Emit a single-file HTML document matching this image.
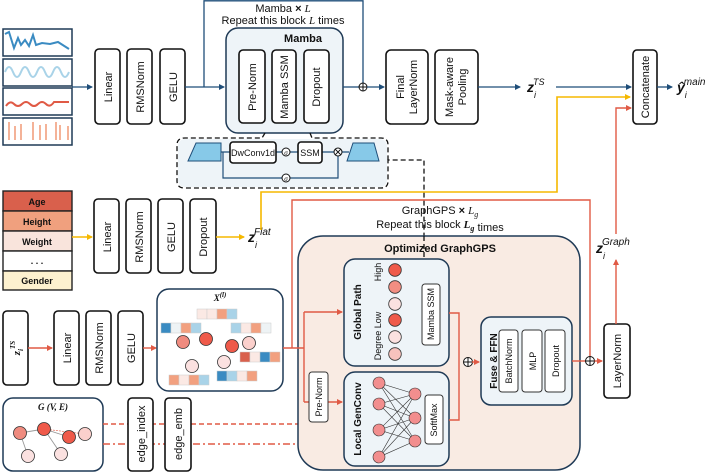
<!DOCTYPE html>
<html><head><meta charset="utf-8"><style>
html,body{margin:0;padding:0;background:#fff}
svg{display:block}
text{font-family:"Liberation Sans",sans-serif;fill:#111}
.b{fill:#fff;stroke:#111;stroke-width:1.6}
.bl{font-size:11px}
.s{font-family:"Liberation Serif",serif;font-style:italic}
</style></head><body>
<svg width="718" height="473" viewBox="0 0 718 473" xmlns="http://www.w3.org/2000/svg">
<defs>
<marker id="an" markerWidth="6" markerHeight="6" refX="5" refY="3" orient="auto" markerUnits="userSpaceOnUse"><path d="M0,0 L6,3 L0,6z" fill="#1f4e79"/></marker>
<marker id="ar" markerWidth="6" markerHeight="6" refX="5" refY="3" orient="auto" markerUnits="userSpaceOnUse"><path d="M0,0 L6,3 L0,6z" fill="#e05a45"/></marker>
<marker id="ay" markerWidth="6" markerHeight="6" refX="5" refY="3" orient="auto" markerUnits="userSpaceOnUse"><path d="M0,0 L6,3 L0,6z" fill="#f5b800"/></marker>
</defs>

<!-- TS panels -->
<g stroke="#1f3a56" stroke-width="1.5" fill="#fff">
<rect x="3" y="29" width="69" height="27"/><rect x="3" y="59" width="69" height="27"/>
<rect x="3" y="88" width="69" height="27"/><rect x="3" y="118" width="69" height="27"/>
</g>
<path d="M5,34 L9,32 L14,48 L18,38 L21,45 L25,40 L29,46 L33,35 L36,45 L42,43 L50,44 L58,42 L69,49" fill="none" stroke="#3a8bc2" stroke-width="2"/>
<path d="M5,72 Q9,62 13,72 T21,72 T29,72 T37,72 T45,72 T53,72 T61,72 T69,72" fill="none" stroke="#a9d3e8" stroke-width="2"/>
<path d="M6,106 Q10,100 14,104 T22,104 T30,104 T38,104 T46,104 T54,102 L69,102" fill="none" stroke="#e05a45" stroke-width="2"/>
<g stroke="#f2a07f" stroke-width="1.6"><path d="M9,122v18M15,126v14M21,124v16M33,122v18M40,125v15M46,124v16M56,122v18M60,125v15M68,126v14"/></g>

<!-- top chain -->
<path d="M72,87 H92" stroke="#1f4e79" stroke-width="1.3" marker-end="url(#an)"/>
<rect class="b" x="95" y="49" width="25" height="75" rx="4"/>
<rect class="b" x="127" y="49" width="25" height="75" rx="4"/>
<rect class="b" x="160" y="49" width="25" height="75" rx="4"/>
<text class="bl" transform="translate(112,87) rotate(-90)" text-anchor="middle">Linear</text>
<text class="bl" transform="translate(144,87) rotate(-90)" text-anchor="middle">RMSNorm</text>
<text class="bl" transform="translate(177,87) rotate(-90)" text-anchor="middle">GELU</text>
<path d="M185,87 H224" stroke="#1f4e79" stroke-width="1.3" fill="none" marker-end="url(#an)"/>
<path d="M204,87 V0.8 H363 V83" stroke="#1f4e79" stroke-width="1.3" fill="none"/>
<text x="283" y="12" text-anchor="middle" font-size="11">Mamba <tspan font-weight="bold">×</tspan> <tspan class="s">L</tspan></text>
<text x="283" y="24" text-anchor="middle" font-size="11">Repeat this block <tspan class="s">L</tspan> times</text>
<rect x="226" y="28" width="117" height="105" rx="12" fill="#eef4f8" stroke="#1f3a56" stroke-width="1.5"/>
<text x="303" y="42" text-anchor="middle" font-size="11" font-weight="bold">Mamba</text>
<rect class="b" x="239" y="50" width="26" height="73" rx="4"/>
<rect class="b" x="272" y="50" width="24" height="73" rx="4"/>
<rect class="b" x="304" y="50" width="25" height="73" rx="4"/>
<text class="bl" transform="translate(256,87) rotate(-90)" text-anchor="middle">Pre-Norm</text>
<text class="bl" transform="translate(288,87) rotate(-90)" text-anchor="middle">Mamba SSM</text>
<text class="bl" transform="translate(320,87) rotate(-90)" text-anchor="middle">Dropout</text>
<path d="M343,87 H359" stroke="#1f4e79" stroke-width="1.3"/>
<circle cx="363" cy="87" r="4" fill="#fff" stroke="#111" stroke-width="1"/><path d="M359,87h8M363,83v8" stroke="#111" stroke-width="1"/>
<path d="M367,87 H384" stroke="#1f4e79" stroke-width="1.3" marker-end="url(#an)"/>
<rect class="b" x="386" y="50" width="42" height="74" rx="5"/>
<rect class="b" x="435" y="50" width="43" height="74" rx="5"/>
<text class="bl" transform="translate(404,87) rotate(-90)" text-anchor="middle">Final</text>
<text class="bl" transform="translate(417,87) rotate(-90)" text-anchor="middle">LayerNorm</text>
<text class="bl" transform="translate(453,87) rotate(-90)" text-anchor="middle">Mask-aware</text>
<text class="bl" transform="translate(466,87) rotate(-90)" text-anchor="middle">Pooling</text>
<path d="M478,87 H520" stroke="#1f4e79" stroke-width="1.3" marker-end="url(#an)"/>
<text x="527" y="92" font-size="14" font-weight="bold" font-family="Liberation Serif,serif" font-style="italic">z<tspan font-size="9" dy="6" font-weight="normal">i</tspan><tspan font-size="9" dy="-13" dx="-3" font-weight="normal">TS</tspan></text>
<path d="M556,87 H631" stroke="#1f4e79" stroke-width="1.3" marker-end="url(#an)"/>
<rect class="b" x="633" y="50" width="24" height="74" rx="4"/>
<text class="bl" transform="translate(649,87) rotate(-90)" text-anchor="middle">Concatenate</text>
<path d="M657,87 H672" stroke="#1f4e79" stroke-width="1.3" marker-end="url(#an)"/>
<text x="677" y="92" font-size="14" font-weight="bold" font-family="Liberation Serif,serif" font-style="italic">ŷ<tspan font-size="9" dy="6" font-weight="normal">i</tspan><tspan font-size="10" dy="-13" dx="-3" font-weight="normal">main</tspan></text>

<!-- mamba expanded -->
<path d="M265,133 L262,138 H185 Q177,138 177,145 V181 Q177,188 185,188 H381 Q388,188 388,181 V160 H424 V278" fill="none" stroke="#111" stroke-width="1.3" stroke-dasharray="5,3"/>
<path d="M310,133 L312,138 H381 Q388,138 388,145 V160" fill="none" stroke="#111" stroke-width="1.3" stroke-dasharray="5,3"/>
<rect x="178" y="139" width="209" height="48" rx="7" fill="#eef4f8"/>
<path d="M196,143 H221 V161 H188 Z" fill="#87c9e8" stroke="#1f4e79" stroke-width="1"/>
<path d="M353,143 H374 L379,161 H347 Z" fill="#87c9e8" stroke="#1f4e79" stroke-width="1"/>
<path d="M221,152 H230 M276,152 H282 M290,152 H298 M322,152 H334 M342,152 H349 M223,152 V178 H282 M290,178 H338 V156" stroke="#1f4e79" stroke-width="1.2" fill="none"/>
<rect class="b" x="230" y="142" width="46" height="21" rx="3" stroke-width="1.2"/>
<text x="253" y="156" text-anchor="middle" font-size="9">DwConv1d</text>
<circle cx="286" cy="152" r="4" fill="#fff" stroke="#111"/><text x="286" y="155" text-anchor="middle" font-size="7" class="s">σ</text>
<rect class="b" x="298" y="142" width="24" height="21" rx="3" stroke-width="1.2"/>
<text x="310" y="156" text-anchor="middle" font-size="9">SSM</text>
<circle cx="338" cy="152" r="4" fill="#fff" stroke="#111"/><path d="M335,149l6,6M341,149l-6,6" stroke="#111" stroke-width="0.9"/>
<circle cx="286" cy="178" r="4" fill="#fff" stroke="#111"/><text x="286" y="181" text-anchor="middle" font-size="7" class="s">σ</text>

<!-- flat -->
<g stroke="#222" stroke-width="1.4">
<rect x="3" y="191" width="69" height="20" fill="#d9604c"/>
<rect x="3" y="211" width="69" height="20" fill="#f0a07e"/>
<rect x="3" y="231" width="69" height="20" fill="#f9e4dc"/>
<rect x="3" y="251" width="69" height="20" fill="#fff"/>
<rect x="3" y="271" width="69" height="19" fill="#fdf1cf"/>
</g>
<g font-size="9" font-weight="bold" text-anchor="middle">
<text x="37" y="205">Age</text><text x="37" y="225">Height</text><text x="37" y="245">Weight</text><text x="37" y="264">. . .</text><text x="37" y="284">Gender</text></g>
<path d="M72,237 H92" stroke="#f5b800" stroke-width="1.5" marker-end="url(#ay)"/>
<rect class="b" x="94" y="199" width="25" height="74" rx="4"/>
<rect class="b" x="126" y="199" width="25" height="74" rx="4"/>
<rect class="b" x="158" y="199" width="25" height="74" rx="4"/>
<rect class="b" x="190" y="199" width="26" height="74" rx="4"/>
<text class="bl" transform="translate(111,237) rotate(-90)" text-anchor="middle">Linear</text>
<text class="bl" transform="translate(143,237) rotate(-90)" text-anchor="middle">RMSNorm</text>
<text class="bl" transform="translate(175,237) rotate(-90)" text-anchor="middle">GELU</text>
<text class="bl" transform="translate(207,237) rotate(-90)" text-anchor="middle">Dropout</text>
<path d="M216,237 H244" stroke="#f5b800" stroke-width="1.5" marker-end="url(#ay)"/>
<text x="248" y="242" font-size="14" font-weight="bold" font-family="Liberation Serif,serif" font-style="italic">z<tspan font-size="9" dy="6" font-weight="normal">i</tspan><tspan font-size="10" dy="-13" dx="-3" font-weight="normal">Flat</tspan></text>
<path d="M261,230 V192 H557 V97 H630" stroke="#f5b800" stroke-width="1.6" fill="none" marker-end="url(#ay)"/>

<!-- graph chain -->
<rect class="b" x="3" y="311" width="25" height="74" rx="4"/>
<text transform="translate(20,348) rotate(-90)" text-anchor="middle" font-size="11" class="s" font-weight="bold">z<tspan font-size="7" dy="3">i</tspan><tspan font-size="7" dy="-8">TS</tspan></text>
<path d="M28,348 H52" stroke="#e05a45" stroke-width="1.4" marker-end="url(#ar)"/>
<rect class="b" x="54" y="311" width="25" height="74" rx="4"/>
<rect class="b" x="86" y="311" width="25" height="74" rx="4"/>
<rect class="b" x="118" y="311" width="25" height="74" rx="4"/>
<text class="bl" transform="translate(71,348) rotate(-90)" text-anchor="middle">Linear</text>
<text class="bl" transform="translate(103,348) rotate(-90)" text-anchor="middle">RMSNorm</text>
<text class="bl" transform="translate(135,348) rotate(-90)" text-anchor="middle">GELU</text>
<path d="M143,348 H156" stroke="#e05a45" stroke-width="1.4" marker-end="url(#ar)"/>
<rect x="157" y="289" width="126" height="102" rx="12" fill="#fff" stroke="#1f3a56" stroke-width="1.5"/>
<text x="220" y="301" text-anchor="middle" font-size="9" font-weight="bold" class="s">X<tspan font-size="7" dy="-4">(l)</tspan></text>
<g stroke="#ccc" stroke-width="0.5">
<rect x="197" y="309" width="10" height="10" fill="#fbe9e4"/><rect x="207" y="309" width="10" height="10" fill="#fbe9e4"/><rect x="217" y="309" width="10" height="10" fill="#f2a07f"/><rect x="227" y="309" width="10" height="10" fill="#a9d3e8"/>
<rect x="161" y="323" width="10" height="10" fill="#3a8bc2"/><rect x="171" y="323" width="10" height="10" fill="#eef3f5"/><rect x="181" y="323" width="10" height="10" fill="#f2a07f"/><rect x="191" y="323" width="10" height="10" fill="#a9d3e8"/>
<rect x="231" y="323" width="10" height="10" fill="#a9d3e8"/><rect x="241" y="323" width="10" height="10" fill="#fbe9e4"/><rect x="251" y="323" width="10" height="10" fill="#f2a07f"/><rect x="261" y="323" width="10" height="10" fill="#eef3f5"/>
<rect x="240" y="352" width="10" height="10" fill="#d9604c"/><rect x="250" y="352" width="10" height="10" fill="#fbe9e4"/><rect x="260" y="352" width="10" height="10" fill="#3a8bc2"/><rect x="270" y="352" width="10" height="10" fill="#f2a07f"/>
<rect x="169" y="375" width="10" height="10" fill="#f2a07f"/><rect x="179" y="375" width="10" height="10" fill="#fbe9e4"/><rect x="189" y="375" width="10" height="10" fill="#f2a07f"/><rect x="199" y="375" width="10" height="10" fill="#a9d3e8"/>
<rect x="217" y="371" width="10" height="10" fill="#3a8bc2"/><rect x="227" y="371" width="10" height="10" fill="#a9d3e8"/><rect x="237" y="371" width="10" height="10" fill="#fbe9e4"/><rect x="247" y="371" width="10" height="10" fill="#f2a07f"/>
</g>
<g stroke="#333" stroke-width="0.8">
<circle cx="183" cy="342" r="6.5" fill="#ef8b7f"/><circle cx="206" cy="339" r="6.5" fill="#ef5a4a"/><circle cx="232" cy="346" r="6.5" fill="#ef5a4a"/><circle cx="249" cy="343" r="6.5" fill="#fbd0cc"/><circle cx="192" cy="366" r="6.5" fill="#fbe1e0"/><circle cx="224" cy="362" r="6.5" fill="#fbe1e0"/>
</g>

<!-- G(V,E) -->
<rect x="3" y="398" width="100" height="73" rx="10" fill="#fff" stroke="#1f3a56" stroke-width="1.5"/>
<text x="53" y="410" text-anchor="middle" font-size="9" font-weight="bold" class="s">G (V, E)</text>
<path d="M20,433 L44,429 L69,437 M44,429 L61,454 M20,433 L28,456" stroke="#999" stroke-width="0.9" fill="none"/>
<path d="M44,429 L85,434" stroke="#e05a45" stroke-width="0.7" stroke-dasharray="2,1"/>
<g stroke="#333" stroke-width="0.8">
<circle cx="20" cy="433" r="6.5" fill="#ef8b7f"/><circle cx="44" cy="429" r="6.5" fill="#ef5a4a"/><circle cx="69" cy="437" r="6.5" fill="#ef5a4a"/><circle cx="85" cy="434" r="6.5" fill="#fbd0cc"/><circle cx="28" cy="456" r="6.5" fill="#fbe1e0"/><circle cx="61" cy="454" r="6.5" fill="#fbe1e0"/>
</g>
<path d="M103,424 H342" stroke="#e05a45" stroke-width="1.4" stroke-dasharray="5,3" marker-end="url(#ar)"/>
<path d="M103,444 H342" stroke="#e05a45" stroke-width="1.4" stroke-dasharray="7,3,2,3" marker-end="url(#ar)"/>
<path d="M333,424 V328 H342" stroke="#e05a45" stroke-width="1.2" stroke-dasharray="3,2" fill="none" marker-end="url(#ar)"/>
<rect class="b" x="128" y="398" width="25" height="73" rx="4"/>
<rect class="b" x="165" y="398" width="26" height="73" rx="4"/>
<text class="bl" transform="translate(145,434) rotate(-90)" text-anchor="middle">edge_index</text>
<text class="bl" transform="translate(182,434) rotate(-90)" text-anchor="middle">edge_emb</text>

<!-- GraphGPS -->
<text x="440" y="214" text-anchor="middle" font-size="11">GraphGPS <tspan font-weight="bold">×</tspan> <tspan class="s">L<tspan font-size="8" dy="3">g</tspan></tspan></text>
<text x="440" y="228" text-anchor="middle" font-size="11">Repeat this block <tspan class="s" font-weight="bold">L<tspan font-size="8" dy="3">g</tspan></tspan> times</text>
<rect x="298" y="236" width="282" height="234" rx="25" fill="#f9ebe3" stroke="#1f3a56" stroke-width="1.5"/>
<path d="M424,236 V278" stroke="#111" stroke-width="1.3" stroke-dasharray="5,3"/>
<text x="440" y="252" text-anchor="middle" font-size="11" font-weight="bold">Optimized GraphGPS</text>
<path d="M283,348 H304 M304,312 V402" stroke="#e05a45" stroke-width="1.4" fill="none"/>
<path d="M304,312 H342" stroke="#e05a45" stroke-width="1.4" marker-end="url(#ar)"/>
<path d="M304,402 H342" stroke="#e05a45" stroke-width="1.4" marker-end="url(#ar)"/>
<path d="M292,348 V200 H590 V357" stroke="#e05a45" stroke-width="1.4" fill="none"/>
<rect x="309" y="372" width="19" height="50" rx="3" fill="#fff" stroke="#333" stroke-width="1"/>
<text transform="translate(322,397) rotate(-90)" text-anchor="middle" font-size="9">Pre-Norm</text>

<rect x="344" y="259" width="105" height="107" rx="11" fill="#eef4f8" stroke="#1f3a56" stroke-width="1.5"/>
<text transform="translate(361,312) rotate(-90)" text-anchor="middle" font-size="10" font-weight="bold">Global Path</text>
<text transform="translate(381,272) rotate(-90)" text-anchor="middle" font-size="9" fill="#333">High</text>
<text transform="translate(381,336) rotate(-90)" text-anchor="middle" font-size="9" fill="#333">Degree Low</text>
<g stroke="#333" stroke-width="0.8">
<circle cx="395" cy="270" r="6.3" fill="#ef5a4a"/><circle cx="395" cy="287" r="6.3" fill="#f28e82"/><circle cx="395" cy="304" r="6.3" fill="#fbe1e0"/><circle cx="395" cy="320" r="6.3" fill="#ef5a4a"/><circle cx="395" cy="337" r="6.3" fill="#fbe1e0"/><circle cx="395" cy="354" r="6.3" fill="#f7c2bd"/>
</g>
<rect x="422" y="284" width="18" height="61" rx="3" fill="#fff" stroke="#333" stroke-width="1"/>
<text transform="translate(434,314) rotate(-90)" text-anchor="middle" font-size="9">Mamba SSM</text>

<rect x="344" y="372" width="105" height="94" rx="11" fill="#eef4f8" stroke="#1f3a56" stroke-width="1.5"/>
<text transform="translate(361,419) rotate(-90)" text-anchor="middle" font-size="10" font-weight="bold">Local GenConv</text>
<g stroke="#333" stroke-width="0.6">
<path d="M379,383L415,394M379,383L415,418M379,383L415,441M379,404L415,394M379,404L415,418M379,404L415,441M379,430L415,394M379,430L415,418M379,430L415,441M379,457L415,394M379,457L415,418M379,457L415,441"/>
<circle cx="379" cy="383" r="6" fill="#f28e8e"/><circle cx="379" cy="404" r="6" fill="#f28e8e"/><circle cx="379" cy="430" r="6" fill="#f28e8e"/><circle cx="379" cy="457" r="6" fill="#f28e8e"/>
<circle cx="415" cy="394" r="6" fill="#f28e8e"/><circle cx="415" cy="418" r="6" fill="#f28e8e"/><circle cx="415" cy="441" r="6" fill="#f28e8e"/>
</g>
<rect x="425" y="395" width="18" height="49" rx="3" fill="#fff" stroke="#333" stroke-width="1"/>
<text transform="translate(437,420) rotate(-90)" text-anchor="middle" font-size="9">SoftMax</text>

<path d="M449,313 H459 V420 H449" stroke="#e05a45" stroke-width="1.4" fill="none"/>
<circle cx="468" cy="362" r="4.5" fill="#fff" stroke="#111"/><path d="M463.5,362h9M468,357.5v9" stroke="#111"/>
<path d="M472,362 H479" stroke="#e05a45" stroke-width="1.4" marker-end="url(#ar)"/>
<rect x="481" y="317" width="91" height="88" rx="10" fill="#eef4f8" stroke="#1f3a56" stroke-width="1.5"/>
<text transform="translate(497,361) rotate(-90)" text-anchor="middle" font-size="10" font-weight="bold">Fuse &amp; FFN</text>
<rect x="499" y="330" width="19" height="62" rx="3" fill="#fff" stroke="#333" stroke-width="1"/>
<rect x="522" y="330" width="20" height="62" rx="3" fill="#fff" stroke="#333" stroke-width="1"/>
<rect x="545" y="330" width="20" height="62" rx="3" fill="#fff" stroke="#333" stroke-width="1"/>
<text transform="translate(512,361) rotate(-90)" text-anchor="middle" font-size="9">BatchNorm</text>
<text transform="translate(536,361) rotate(-90)" text-anchor="middle" font-size="9">MLP</text>
<text transform="translate(559,361) rotate(-90)" text-anchor="middle" font-size="9">Dropout</text>
<path d="M572,361 H586" stroke="#e05a45" stroke-width="1.4"/>
<circle cx="590" cy="361" r="4.5" fill="#fff" stroke="#111"/><path d="M585.5,361h9M590,356.5v9" stroke="#111"/>
<path d="M594.5,361 H602" stroke="#e05a45" stroke-width="1.4" marker-end="url(#ar)"/>
<rect class="b" x="604" y="324" width="26" height="74" rx="4"/>
<text class="bl" transform="translate(621,361) rotate(-90)" text-anchor="middle">LayerNorm</text>
<path d="M616,324 V260" stroke="#e05a45" stroke-width="1.4" marker-end="url(#ar)"/>
<text x="596" y="253" font-size="14" font-weight="bold" font-family="Liberation Serif,serif" font-style="italic">z<tspan font-size="9" dy="6" font-weight="normal">i</tspan><tspan font-size="10" dy="-14" dx="-3" font-weight="normal">Graph</tspan></text>
<path d="M616,234 V108 H631" stroke="#e05a45" stroke-width="1.4" fill="none" marker-end="url(#ar)"/>
</svg>
</body></html>
